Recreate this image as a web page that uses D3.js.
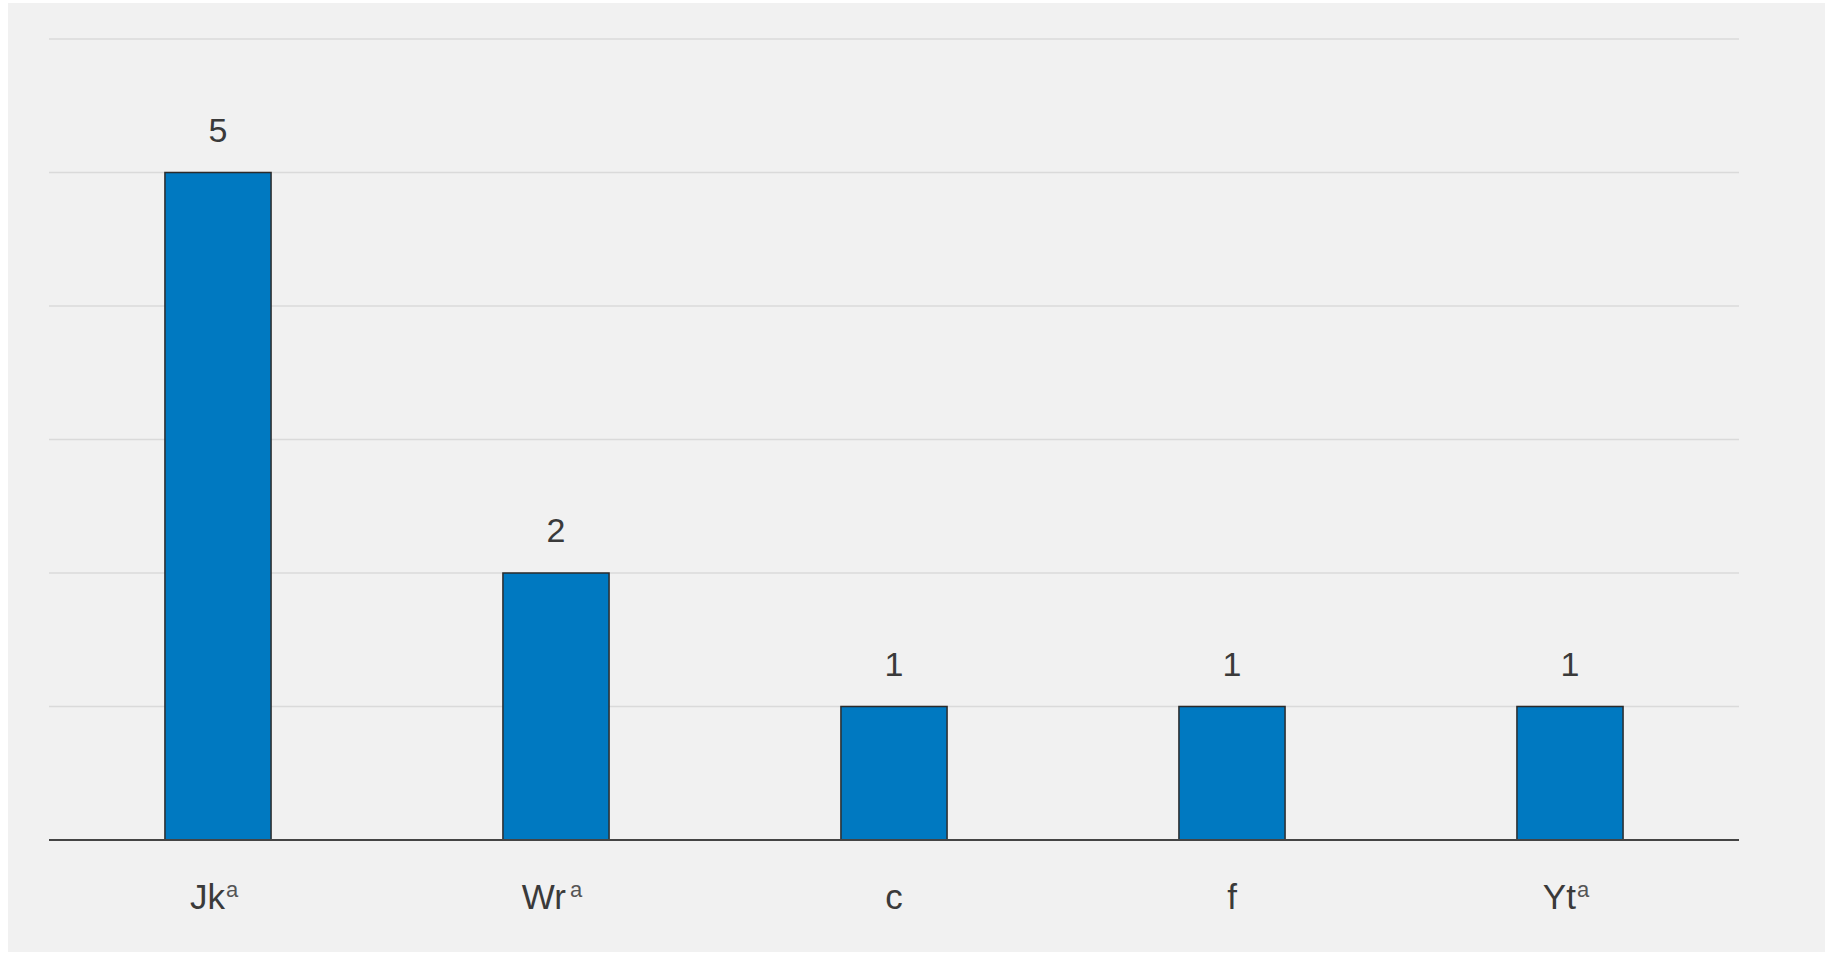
<!DOCTYPE html>
<html><head><meta charset="utf-8">
<script src="https://cdn.jsdelivr.net/npm/d3@7"></script>
<style>
html,body{margin:0;padding:0;background:#fff;}
svg{display:block;}
text{font-family:"Liberation Sans","Helvetica Neue",Arial,sans-serif;fill:#3a3a3a;}
</style></head>
<body>
<svg id="chart" width="1831" height="954"></svg>
<script>
const categories = ["Jk", "Wr", "c", "f", "Yt"];
const superscripts = ["a", "a", "", "", "a"];
const values = [5, 2, 1, 1, 1];
const yTicks = [0, 1, 2, 3, 4, 5, 6];

const svg = d3.select("#chart");
svg.append("rect").attr("x", 8).attr("y", 3).attr("width", 1817).attr("height", 949).attr("fill", "#f1f1f1");

const margin = {left: 49, right: 1739, top: 39, bottom: 840};
const x = d3.scaleBand().domain(categories).range([margin.left, margin.right]).paddingInner(0.686).paddingOuter(0.343);
const y = d3.scaleLinear().domain([0, 6]).range([margin.bottom, margin.top]);

// gridlines
svg.append("g").selectAll("line").data(yTicks.filter(d => d > 0)).join("line")
  .attr("x1", margin.left).attr("x2", margin.right)
  .attr("y1", d => y(d)).attr("y2", d => y(d))
  .attr("stroke", "#dadada").attr("stroke-width", 1.5);

// bars
svg.append("g").selectAll("rect").data(values).join("rect")
  .attr("x", (d, i) => x(categories[i]))
  .attr("y", d => y(d))
  .attr("width", x.bandwidth())
  .attr("height", d => y(0) - y(d))
  .attr("fill", "#0079c1").attr("stroke", "#2b2b2b").attr("stroke-width", 1.5);

// baseline
svg.append("line").attr("x1", margin.left).attr("x2", margin.right)
  .attr("y1", y(0)).attr("y2", y(0)).attr("stroke", "#444").attr("stroke-width", 2);

// value labels
svg.append("g").selectAll("text").data(values).join("text")
  .attr("x", (d, i) => x(categories[i]) + x.bandwidth() / 2)
  .attr("y", d => y(d) - 31)
  .attr("text-anchor", "middle")
  .attr("font-size", 34)
  .text(d => d);

// category labels
const lab = svg.append("g").selectAll("text").data(categories).join("text")
  .attr("x", (d, i) => x(d) + x.bandwidth() / 2 - (superscripts[i] ? 4 : 0))
  .attr("y", 909)
  .attr("text-anchor", "middle")
  .attr("font-size", 35);
lab.append("tspan").text(d => d);
lab.append("tspan")
  .attr("font-size", 22)
  .attr("dy", -12)
  .attr("dx", (d, i) => categories[i] === "Wr" ? 4 : 1)
  .style("fill", "#555")
  .text((d, i) => superscripts[i]);
</script>
</body></html>
